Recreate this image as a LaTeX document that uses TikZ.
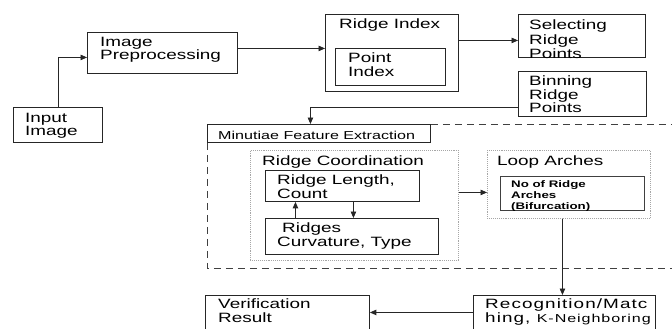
\documentclass[tikz,border=0pt]{standalone}
\usepackage{fontspec}
\newfontfamily\diagfont[FakeStretch=1.4]{Liberation Sans}
\newfontfamily\widefont[FakeStretch=1.4, LetterSpace=8]{Liberation Sans}
\usetikzlibrary{arrows.meta, calc}

\begin{document}
\begin{tikzpicture}[
    x=1pt, y=-1pt,
    font=\diagfont\fontsize{13.5}{13.5}\selectfont,
    boxsize/.style 2 args={minimum width=#1, minimum height=#2},
    box/.style={
        draw=black!85, line width=0.9pt, rectangle,
        anchor=north west, inner sep=0pt
    },
    softbox/.style={
        draw=black!35, line width=0.9pt, densely dotted, rectangle,
        anchor=north west, inner sep=0pt
    },
    txt/.style={anchor=north west, align=left, inner sep=0pt},
    small/.style={font=\diagfont\bfseries\fontsize{9.5}{11}\selectfont},
    line/.style={draw=black!85, line width=0.9pt, -{Triangle[length=6.5pt, width=5.5pt]}},
    dashline/.style={draw=black!75, line width=0.9pt, dash pattern=on 7pt off 5pt}
]
    \useasboundingbox (0,0) rectangle (672,329);
    \clip (0,0) rectangle (672,329);

    % top row
    \node[box, boxsize={89}{35}, label={[txt, xshift=12pt, yshift=-6pt]north west:Input\\Image}] (input) at (13,107) {};
    \node[box, boxsize={150}{41}, label={[txt, xshift=13pt, yshift=-5pt]north west:Image\\Preprocessing}] (prep) at (87,32) {};
    \node[box, boxsize={133}{77}, label={[txt, xshift=14pt, yshift=-5pt]north west:Ridge Index}] (ridx) at (325,14) {};
    \node[box, boxsize={110}{37}, label={[txt, xshift=13pt, yshift=-5pt]north west:Point\\Index}] (pidx) at (335,48) {};
    \node[box, boxsize={127}{43}, label={[txt, xshift=11pt, yshift=-6pt, font=\diagfont\fontsize{13.5}{14.2}\selectfont]north west:Selecting\\Ridge\\Points}] (select) at (518,14) {};
    \node[box, boxsize={128}{45}, label={[txt, xshift=11pt, yshift=-5pt]north west:Binning\\Ridge\\Points}] (bin) at (518,71) {};

    % minutiae feature extraction
    \node[box, fill=white, boxsize={223}{18}, label={[txt, xshift=11pt, yshift=-7pt, font=\diagfont\fontsize{11.5}{11.5}\selectfont]north west:Minutiae Feature Extraction}] (mhead) at (207,124) {};
    \coordinate (dashtr) at (680,124);
    \coordinate (dashbr) at (680,268);
    \draw[dashline] (mhead.north east) -- (dashtr);
    \draw[dashline] (mhead.south west) |- (dashbr);

    \node[softbox, boxsize={208}{110}, label={[txt, xshift=12pt, yshift=-6pt]north west:Ridge Coordination}] (rcoord) at (250,150) {};
    \node[box, boxsize={154}{31}, label={[txt, xshift=12pt, yshift=-5pt]north west:Ridge Length,\\Count}] (rlen) at (265,170) {};
    \node[box, boxsize={173}{36}, label={[txt, xshift=12pt, yshift=-5pt]north west:\hspace*{5pt}Ridges\\Curvature, Type}] (ridges) at (265,218) {};
    \node[softbox, boxsize={163}{68}, label={[txt, xshift=10pt, yshift=-6pt]north west:Loop Arches}] (loop) at (487,150) {};
    \node[box, draw=black!75, line width=1.4pt, boxsize={144}{34}, label={[txt, small, xshift=11pt, yshift=-4pt]north west:No of Ridge\\Arches\\(Bifurcation)}] (arches) at (500,176) {};

    % bottom row
    \node[box, boxsize={164}{40}, label={[txt, xshift=13pt, yshift=-4pt]north west:Verification\\Result}] (verif) at (205,295) {};
    \node[box, boxsize={182}{40}, label={[txt, xshift=12pt, yshift=-4pt, font=\widefont\fontsize{13.5}{13.5}\selectfont]north west:Recognition/Matc\\hing, {\fontsize{11.5}{13.5}\selectfont K-Neighboring}}] (recog) at (473,295) {};

    % connectors
    \draw[line] (input.north) |- ($(prep.west)+(0,4.5)$);
    \draw[line] ($(prep.east)+(0,-4.5)$) -- ($(ridx.west)+(0,-4.5)$);
    \draw[line] ($(ridx.east)+(0,-12.5)$) -- ($(select.west)+(0,4.5)$);
    \draw[line] ($(bin.west)+(0,13.5)$) -| ($(mhead.north)+(-8.5,0)$);
    \draw[line] ($(ridges.north)+(-56.5,0)$) -- ($(rlen.south)+(-47,0)$);
    \draw[line] ($(rlen.south)+(11,0)$) -- ($(ridges.north)+(1.5,0)$);
    \draw[line] ($(rcoord.east)+(0,-13)$) -- ($(loop.west)+(0,8)$);
    \draw[line] ($(loop.south)+(-6.5,0)$) -- ($(recog.north)+(-2,0)$);
    \draw[line] ($(recog.west)+(0,-3)$) -- ($(verif.east)+(0,-3)$);
\end{tikzpicture}
\end{document}
